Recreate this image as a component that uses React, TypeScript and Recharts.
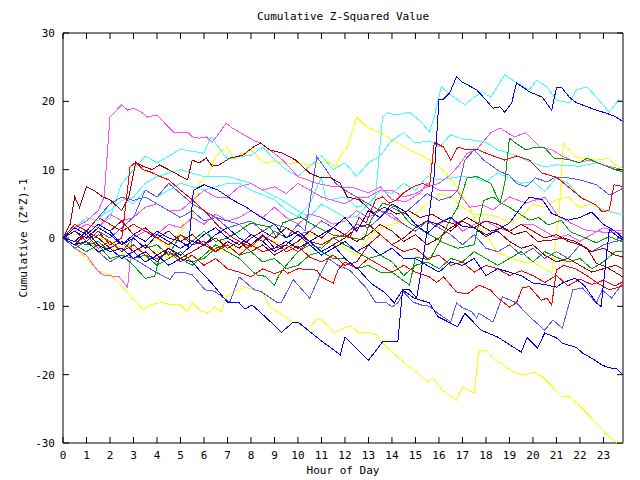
import React from "react";
import { LineChart, Line, XAxis, YAxis, ReferenceArea } from "recharts";

type P = [number, number];

// ---- axis values ----
const HOUR_TICKS = [0,1,2,3,4,5,6,7,8,9,10,11,12,13,14,15,16,17,18,19,20,21,22,23];
const VALUE_TICKS = [-30,-20,-10,0,10,20,30];
const X_MAX = 23.833;
const TITLE = "Cumulative Z-Squared Value";
const X_LABEL = "Hour of Day";
const Y_LABEL = "Cumulative (Z*Z)-1";

// ---- series (hour, cumulative value) ----
const BLUE_A: P[] = [[0,0],[0.5,-1],[1,-0.5],[1.5,-2],[2,-1.5],[2.5,-3],[3,-2],[3.5,-3.5],[4,-2.5],[4.5,-4],[5,-3],[5.5,-3.5],[5.8,-4.7],[6.3,-6.5],[7.0,-9.4],[7.5,-9.5],[7.75,-10.4],[8.05,-9.8],[8.6,-11.5],[9.3,-13.8],[9.8,-12.3],[10.0,-12.3],[10.9,-14.8],[11.8,-17.1],[12.0,-14.5],[13.0,-17.9],[13.6,-15.2],[14.25,-15.2],[14.45,-7.6],[14.75,-7.6],[15.05,-8.8],[15.25,-4.7],[15.5,1.2],[15.8,9.2],[16.0,20.2],[16.15,20.2],[16.45,21.2],[16.75,23.6],[17.0,22.8],[17.6,21.7],[18.0,20.2],[18.3,19.0],[18.6,19.2],[18.8,18.4],[19.1,19.8],[19.3,22.7],[19.85,21.4],[20.4,20.6],[20.8,18.7],[21.0,22.0],[21.2,22.1],[21.55,20.6],[21.85,19.8],[22.7,18.7],[23.1,18.3],[23.55,17.7],[23.83,17.0]];
const BLUE_B: P[] = [[0,0],[0.5,1],[1,0],[1.5,1.5],[2,0.5],[2.5,-1],[3,0],[3.5,-1.5],[4,0.5],[4.5,-0.5],[5,-1.5],[5.5,-0.5],[6,-1],[6.5,0.5],[7,1.5],[7.5,0],[8,-1],[8.5,0.5],[9,-1.5],[9.5,-0.5],[10,-1.5],[10.5,-0.5],[11,-2],[11.5,-1],[12,-3],[12.6,-4.7],[13.1,-6.6],[13.7,-8],[14.1,-9.5],[14.45,-7.6],[14.95,-8.8],[15.6,-9.5],[15.95,-11.5],[16.8,-13],[17.1,-11],[17.8,-13.5],[18.5,-14.5],[19.5,-16.7],[19.75,-14.6],[20.2,-16.1],[20.5,-13.9],[21.0,-14.6],[21.25,-15.4],[21.85,-16],[22.1,-16.8],[22.5,-17.6],[22.95,-18.6],[23.25,-19],[23.55,-19.1],[23.83,-20]];
const BLUE_C: P[] = [[0,0],[0.5,-0.5],[1,1],[1.5,-1],[2,-2],[2.5,-1.5],[3,-3],[3.5,-2],[4,-3.5],[4.5,-1.5],[5,-2.5],[5.5,-1],[6,0.5],[6.5,1.5],[7,0],[7.5,-1],[8,0.5],[8.5,-0.5],[9,-2],[9.5,-1],[10,0.5],[10.5,-1],[11,-2.5],[11.5,-1.5],[12,-0.5],[12.5,-2],[13,-1],[13.5,-2.5],[14,-1.5],[14.5,-3],[15,-3],[15.5,-4],[16,-5],[16.5,-3.5],[17,-4],[17.5,-3],[18,-5.5],[18.5,-4.5],[19,-5],[19.5,-5.5],[20,-6.6],[20.5,-6.8],[21,-7.2],[21.3,-6.5],[21.8,-5.9],[22.2,-7],[22.7,-9.5],[22.9,-10],[23.25,1.2],[23.5,0.5],[23.83,-0.3]];
const BLUE_D: P[] = [[0,0],[0.5,1.5],[1,0.5],[1.5,2],[2,1],[2.5,-1],[3,0.5],[3.5,-0.5],[4,1],[4.5,0],[5,-0.5],[5.35,-1.3],[5.55,7],[6,7.8],[6.6,7],[7.2,5.6],[7.8,4.5],[8.4,3.1],[9,2],[9.5,0],[10,1],[10.5,-0.5],[11,0.5],[11.5,1.5],[12,3],[12.5,1],[13,4],[13.5,3],[14,5],[14.5,4],[15,2],[15.5,0.7],[16,2.2],[16.5,3],[17,1.7],[17.5,1.5],[18,0.2],[18.5,1.2],[19,2.2],[19.5,4.5],[19.85,6],[20.4,5.6],[20.8,3.6],[21.5,2.6],[22,3],[22.5,3.8],[23,2],[23.5,1],[23.83,0]];
const SLATE_1: P[] = [[0,0],[0.5,-1.5],[1,-0.5],[1.5,-2],[2,-3.5],[2.5,-2.5],[3,-3],[3.8,-4.7],[4.55,-6.1],[4.75,-5.1],[5.2,-5.1],[5.5,-5.4],[6.05,-7.6],[6.45,-7.8],[7.1,-9.4],[7.5,-5.7],[8.15,-7.6],[8.4,-7.8],[9.1,-9.4],[9.3,-9.4],[9.8,-6.1],[10.5,-8.8],[10.9,-5.7],[11.3,-3],[11.7,-4],[12.2,-4.7],[12.9,-7.3],[13.3,-9.4],[13.6,-9.5],[13.75,-9.4],[14.0,-10.1],[14.25,-9.5],[14.5,-7.9],[14.9,-9.4],[15.25,-9.8],[15.6,-10],[15.95,-11],[16.5,-12.3],[16.75,-9.5],[17.0,-10.2],[17.4,-10.8],[17.6,-11.7],[17.7,-11],[18.3,-12.3],[18.7,-8.6],[19.3,-9.5],[19.85,-11.5],[20.5,-13.5],[20.85,-12],[21.25,-13.2],[21.7,-7.6],[22.1,-7.3],[22.7,-9.5],[22.95,-7.6],[23.35,-8.8],[23.83,-6.6]];
const SLATE_2: P[] = [[0,0],[0.5,2],[1,1],[1.5,3],[2,5],[2.5,6],[3,5.5],[3.5,6],[4,5],[4.5,4],[5,3],[5.5,4],[6,2.5],[6.5,3],[7,1.5],[7.5,2],[8,0.5],[8.5,-0.5],[9,1],[9.5,0],[10,2],[10.3,1],[10.5,5],[10.8,11.9],[11.2,10],[11.6,8],[12,7],[12.5,6],[13,5],[13.5,4],[14,3.5],[14.5,2],[15,1],[15.5,2.5],[16,1.5],[16.5,0.5],[17,-1],[17.5,0.5],[18,-1.5],[18.5,-2],[19,-1],[19.5,-2.5],[20,-1.5],[20.5,-3],[21,-2],[21.5,-3],[22,-1],[22.5,-2],[23,-1],[23.5,-0.5],[23.83,-0.3]];
const SLATE_3: P[] = [[0,0],[0.5,-1],[1,-0.5],[1.5,1],[2,0],[2.5,1.5],[3,3],[3.5,7],[4,6],[4.5,8],[5,6.5],[5.5,5],[6,4],[6.5,3],[7,2.5],[7.5,2],[8,2.5],[8.5,1],[9,2],[9.5,1.5],[10,0.5],[10.5,1],[11,2.5],[11.5,1.5],[12,0.5],[12.5,2],[13,1.5],[13.5,3],[14,4.5],[14.5,3.5],[15,5],[15.5,6.5],[16,5.5],[16.5,6],[16.8,7],[17.1,11.4],[17.5,12.9],[17.9,11.4],[18.6,9.7],[19.0,9.2],[19.3,8],[19.7,7.5],[20.1,8.8],[20.6,8.2],[20.9,8.8],[21.5,8.8],[22.0,8.5],[22.7,7.8],[23.25,6.3],[23.6,6.8],[23.83,7.3]];
const RED_1: P[] = [[0,0],[0.5,2],[1,1],[1.5,3],[2,2],[2.5,1],[3,2],[3.5,1],[4,0],[4.5,-1],[5,0.5],[5.5,-1],[6,-0.5],[6.5,-2],[7,-1],[7.5,-2.5],[8,-1],[8.5,-2],[9,-1.5],[9.5,-1],[10,-2],[10.5,-0.5],[11,-1],[11.5,0],[12,0.5],[12.2,0],[12.6,3],[12.9,2.2],[13.3,5.6],[13.6,6],[13.9,5.1],[14.2,5.6],[14.5,6.6],[14.9,7.5],[15.3,8],[15.6,7.5],[15.8,14],[16.2,13.3],[16.5,11.4],[16.8,13.3],[17.2,12.9],[17.7,12.9],[18.0,12.4],[18.4,11.9],[18.8,11.4],[19.3,12],[19.85,11.4],[20.4,9.5],[21.0,8.9],[21.5,7.5],[22.1,5.8],[22.7,4.8],[22.95,3.8],[23.25,4.1],[23.45,7.8],[23.83,7.5]];
const RED_2: P[] = [[0,0],[0.5,1],[1,-0.5],[1.5,1],[2,-1],[2.5,0],[2.7,5.6],[2.85,10.4],[3.1,11.1],[3.4,10],[3.7,9.7],[4.0,9.2],[4.5,8.5],[5.0,7],[5.5,5.6],[6.1,3.7],[6.65,1.6],[7.2,0.1],[7.6,-0.7],[8.0,-1.3],[8.5,0.3],[9.0,-0.7],[9.5,-2],[10.0,-1.2],[10.5,-2.8],[11.0,-3.5],[11.5,-2.5],[12.0,-4],[12.5,-3.5],[13,-1],[13.5,0.5],[14,-1],[14.5,-2],[15,-1.5],[15.5,-3],[16,-2.5],[16.5,-4],[17,-3.5],[17.5,-5],[18,-4],[18.5,-4.5],[19,-5.5],[19.5,-4.8],[20,-5.5],[20.5,-6.5],[21,-5.5],[21.5,-7],[22,-6],[22.5,-6.8],[23,-6.2],[23.5,-7],[23.83,-6.4]];
const RED_3: P[] = [[0,0],[0.5,-1],[1,0.5],[1.5,-1.5],[2,-0.5],[2.5,-2],[3,-1],[3.5,-2.5],[4,-3],[4.5,-2],[5,-3.5],[5.5,-2.5],[6,-4],[6.5,-3],[7,-4.5],[7.5,-5],[8,-5.7],[8.5,-4.5],[9,-5.2],[9.4,-4.7],[9.55,-5.2],[10,-4.5],[10.8,-4.7],[11.0,-5.7],[11.5,-6.6],[11.7,-4.7],[12,-3.5],[12.5,-4.5],[13,-3],[13.5,-4],[14,-5],[14.5,-4],[15,-5],[15.6,-5.7],[15.9,-6.5],[16.2,-5.7],[16.75,-7.9],[17.2,-8.2],[17.7,-6.9],[18.2,-7.6],[18.45,-8.6],[19.0,-10.1],[19.3,-9.5],[19.55,-7.3],[19.85,-7.1],[20.35,-9.1],[20.6,-8.8],[20.8,-9.8],[21.0,-4.7],[21.3,-4],[21.8,-4.5],[22.3,-5.5],[22.7,-6.5],[23.25,-7.6],[23.83,-7]];
const DKRED_1: P[] = [[0,0],[0.3,2],[0.5,6],[0.7,4.5],[1.0,7.5],[1.3,7],[1.7,6],[2.0,5.6],[2.5,4],[2.8,6],[3.1,11.1],[3.4,10.5],[3.8,10],[4.1,10.7],[4.5,10],[5.3,8.5],[5.5,11.4],[5.8,11],[6.1,11.7],[6.35,10.5],[6.65,10.7],[7.1,11.7],[7.65,12.1],[8.1,13.3],[8.4,13.9],[8.8,12.9],[9.35,12.4],[9.9,11.4],[10.5,9.5],[10.9,8.9],[11.35,8.9],[11.8,8],[12.1,6],[12.6,5.6],[13.2,3.7],[13.7,4.5],[14.2,3.5],[14.7,4],[15.2,3],[15.7,3.5],[16.2,2.5],[16.7,2],[17.2,3],[17.7,2],[18.2,1],[18.7,1.5],[19.2,0.5],[19.7,1],[20.2,-0.5],[20.8,-0.3],[21.3,0],[21.8,-0.5],[22.3,-1.5],[22.7,-3.7],[23.1,-4.2],[23.83,-5.7]];
const DKRED_2: P[] = [[0,0],[0.5,-1],[1,1],[1.5,0],[2,-1.5],[2.5,-0.5],[3,-2],[3.5,-1],[4,-2.5],[4.5,-1.5],[5,-3],[5.5,-2],[6,-1],[6.5,-2],[7,-0.5],[7.5,-1.5],[8,0],[8.5,1],[9,0],[9.5,1.5],[10,0.5],[10.5,-0.5],[11,-2],[11.5,-1],[12,0],[12.5,1.5],[13,2],[13.5,0.5],[14,-1],[14.5,0],[15,1.5],[15.5,2.5],[16,2],[16.5,1],[17,2.5],[17.5,1.5],[18,2.5],[18.5,2],[19,1],[19.5,2],[20,1],[20.5,0],[21,0.5],[21.5,-0.5],[22,-1],[22.5,-2],[23,-1.5],[23.5,-2.5],[23.83,-2.8]];
const DKRED_3: P[] = [[0,0],[0.5,1.5],[1,0.5],[1.5,2],[2,1],[2.5,2.5],[3,0.5],[3.5,1.5],[4,0],[4.5,1],[5,-0.5],[5.5,0.5],[6,-1],[6.5,0],[7,-1.5],[7.5,-0.5],[8,-2],[8.5,-1],[9,-2.5],[9.5,-1.5],[10,-0.5],[10.5,1],[11,0],[11.5,1.5],[12,0.5],[12.5,-0.5],[13,0.5],[13.5,2],[14,1],[14.5,-0.5],[15,0.5],[15.5,-1],[16,0],[16.5,1.5],[17,2.5],[17.5,1.5],[18,0.5],[18.5,1],[19,-0.5],[19.5,-1.5],[20,-1],[20.5,-2.5],[21,-3.5],[21.5,-3],[22,-4],[22.5,-5],[23,-4.5],[23.5,-4],[23.83,-4.5]];
const GREEN_1: P[] = [[0,0],[0.5,-0.5],[1,-1],[1.5,-0.5],[2,-2],[2.5,-1.5],[3,-3],[3.5,-2.5],[4,-4],[4.5,-3],[5,-2],[5.5,-3.5],[6,-3],[6.5,-1.5],[7,-1],[7.5,-2.5],[8,-2],[8.5,-3.5],[9,-3],[9.5,-4.5],[10,-4],[10.5,-2.5],[11,-2],[11.5,-3],[12,-3],[12.5,-4.5],[13,-4],[13.5,-5],[14,-5],[14.75,-6.9],[15,-2.8],[15.6,-3.2],[16,-0.7],[16.4,2.2],[16.8,4.5],[17.2,8.8],[17.6,9],[18.2,8],[18.6,5.1],[18.8,8],[19.0,14.6],[19.3,13.8],[19.7,12.9],[20.1,13.3],[20.5,13.2],[20.9,11.7],[21.5,11.5],[22,11],[22.3,11.7],[22.9,10.8],[23.5,10],[23.83,9.7]];
const GREEN_2: P[] = [[0,0],[0.5,-0.5],[1,-1],[1.5,0.5],[2,-0.5],[2.5,-2],[3,0],[3.5,-1.5],[4,-1],[4.5,-2.5],[5,0.5],[5.5,-0.5],[6,1],[6.5,-0.5],[7,0],[7.5,1],[8,2.2],[8.8,1.6],[9.1,0.1],[9.35,2.2],[10.1,3.1],[10.8,1.6],[11.5,0.4],[12.2,0.1],[12.8,-0.3],[13.1,2.6],[13.6,5.1],[14.2,4.5],[14.75,2.2],[15.5,0.7],[16.2,-0.7],[16.8,-1.5],[17.5,-1],[17.9,5.5],[18.3,6],[18.7,5],[19.0,4.5],[19.4,3.6],[19.85,2.6],[20.25,3],[20.65,1.9],[21.2,2.6],[21.6,0.9],[22.1,0.2],[22.7,-0.7],[23.25,0.2],[23.83,-0.6]];
const GREEN_3: P[] = [[0,0],[0.5,-1],[1,-2],[1.5,-1],[2,-3],[2.5,-2.5],[3,-4],[3.5,-5.9],[3.9,-5.6],[4.1,-3],[4.5,-2],[5,-3],[5.5,-4],[6,-2.5],[6.5,-1],[7,-2],[7.5,-3],[8,-4.7],[8.25,-5.4],[8.6,-5.6],[9.0,-6.9],[9.2,-5.4],[9.5,-4],[10,-2],[10.5,-1],[11,-1.5],[11.5,0],[12,-1],[12.5,-2],[13,-3],[13.5,-2.5],[14,-3.5],[14.5,-5.5],[15,-4],[15.5,-3.5],[16,-4.5],[16.5,-3],[17,-3.5],[17.5,-2],[18,-3],[18.5,-4],[19,-3],[19.5,-2],[20,-3.5],[20.5,-2],[21,-2.8],[21.5,-3.5],[22,-3],[22.5,-4.5],[23,-3.5],[23.5,-2],[23.83,-2]];
const YELLOW_1: P[] = [[0,0],[0.5,-1.5],[1,-3],[1.45,-4.7],[2.0,-5.4],[2.4,-6.6],[3.4,-10.5],[3.7,-9.8],[4.25,-9.4],[4.55,-9.8],[5.0,-9.8],[5.3,-10.8],[5.5,-9.5],[5.8,-10.5],[6.15,-11],[6.45,-10.1],[6.75,-10.8],[6.95,-8.6],[7.4,-7.6],[7.75,-7.2],[8.15,-7.6],[8.5,-7.9],[8.8,-10.1],[9.35,-11.3],[9.75,-12.3],[10.1,-12.7],[10.4,-13.5],[10.8,-11.9],[11.0,-12],[11.55,-13.8],[11.8,-13.5],[12.1,-12.9],[12.3,-13],[12.55,-13.8],[12.95,-13.8],[13.35,-14.2],[13.6,-15.4],[14.0,-16.7],[14.75,-18.9],[15.05,-19.6],[15.5,-21.1],[15.75,-20.5],[16.15,-22.3],[16.75,-23.7],[17.0,-21.8],[17.5,-22.7],[17.7,-16.4],[17.95,-16.4],[18.45,-18.1],[18.65,-18.2],[19.0,-19.3],[19.3,-19.8],[19.7,-20],[20.05,-19.6],[20.4,-20.3],[21.25,-23.3],[21.5,-23.1],[21.85,-24.1],[22.7,-27.1],[23.25,-29.1],[23.55,-29.9],[23.83,-30]];
const YELLOW_2: P[] = [[0,0],[0.5,-1],[1,0.5],[1.5,-2],[2,-1],[2.5,-3],[3,-2],[3.5,-1],[4,0],[4.5,-1.5],[5,1],[5.5,3],[5.8,8],[6.2,9.5],[6.5,12],[7,13.3],[7.3,11.5],[7.5,12],[8,13],[8.5,11],[9,11.2],[9.5,10.9],[10,11],[10.5,10.7],[11,11],[11.2,11.5],[11.6,10.4],[11.8,12],[12.1,13.3],[12.5,17.7],[12.9,16.3],[13.5,15.4],[14,14.3],[14.75,12.9],[15.3,12],[15.8,11],[16.3,9.5],[16.75,7.5],[17.3,4.5],[17.7,1.5],[18.2,-0.5],[18.5,-2.2],[19.0,-2.8],[19.5,-3.5],[20.0,-3.6],[20.5,-4.5],[20.8,-5.1],[21.1,3],[21.3,13.9],[21.8,11.9],[22.3,11.5],[22.7,11.4],[23.2,11.7],[23.5,10.7],[23.83,10.2]];
const YELLOW_3: P[] = [[0,0],[0.5,0.5],[1,1],[1.5,0],[2,-0.5],[2.5,-1.5],[3,-1],[3.5,-2.5],[4,-2],[4.5,-3],[5,-2.5],[5.5,-3.5],[6,-3],[6.5,-1.5],[7,-2],[7.5,-1],[8,-1.5],[8.5,0],[9,-0.5],[9.5,-1.5],[10,-1],[10.5,0.5],[11,0],[11.5,-1],[12,-1.5],[12.5,-2.5],[13,0],[13.5,1.5],[14,2],[14.5,2.5],[15,3.5],[15.5,5],[16,6.5],[16.5,6],[17,4.5],[17.5,3.5],[18,3.5],[18.5,3.1],[19,2.2],[19.5,3],[20,5],[20.5,4.5],[21,5.6],[21.5,6],[22,4.5],[22.5,5],[23,4],[23.83,3.4]];
const MAG_1: P[] = [[0,0],[0.5,1.5],[1,2.5],[1.5,4],[1.75,6],[2.0,17.7],[2.5,19.5],[2.75,18.7],[3.0,19],[3.35,18.4],[3.6,17.7],[4.0,18],[4.7,15.5],[4.9,15.4],[5.3,15.5],[5.5,14.8],[5.8,14.6],[6.1,14.8],[6.35,14],[6.65,15.4],[6.95,16.8],[7.2,16.1],[7.5,15.5],[8.1,14.3],[8.4,13.9],[8.8,12.9],[9.35,11.4],[10,9],[10.8,8],[11.5,7.5],[12.3,7.4],[13,6.6],[13.5,7.5],[14,5.6],[14.6,5.3],[15.2,6.6],[15.5,8],[16,7],[16.75,7],[17.3,4.5],[17.9,4.8],[18.3,4.1],[19,6],[19.7,5.1],[20.5,6],[21.1,3.1],[21.6,2.2],[22.2,1.2],[22.8,0.9],[23.83,0.7]];
const MAG_2: P[] = [[0,0],[0.5,1],[1,2],[1.5,1.5],[2,3.5],[2.5,2.5],[3,3],[3.5,4.5],[4,5],[4.5,4],[5,4],[5.5,5.5],[6,7],[6.5,6],[7,6],[7.5,7.5],[8,8],[8.5,7],[9,7.5],[9.5,6.5],[10,8],[10.5,7],[11,6],[11.5,5.5],[12,5],[12.5,6],[13,6],[13.5,7],[14,7],[14.5,6],[15,6.5],[15.5,7.5],[16,8],[16.4,9],[16.8,10.4],[17.2,12.4],[17.6,12.9],[18.2,15.4],[18.6,16.1],[19.2,14.8],[19.7,15.4],[20.3,13.3],[20.8,12.9],[21.3,11.9],[21.9,11],[22.4,11.4],[23,10.7],[23.83,10]];
const MAG_3: P[] = [[0,0],[0.5,-1.5],[1,-2.5],[1.45,-4.7],[1.7,-5.4],[2.2,-5.6],[2.4,-5.7],[2.75,-7.2],[2.95,0],[3.5,1],[4,0.5],[4.5,2],[5,1.5],[5.5,3],[6,2],[6.5,3.5],[7,2.5],[7.5,3],[8,4],[8.5,3],[9,4.5],[9.5,3],[10,2],[10.5,3.5],[11,3],[11.5,2],[12,2.5],[12.5,4],[13,3],[13.5,4],[14,3],[14.5,2],[15,1],[15.5,2.5],[16,2],[16.5,3],[17,1],[17.5,2],[18,2.5],[18.5,1.5],[19,1],[19.5,2],[20,2],[20.5,1],[21,0],[21.5,0.5],[22,-0.5],[22.5,0.5],[23,1.5],[23.5,1],[23.83,1.2]];
const CYAN_1: P[] = [[0,0],[0.5,1.5],[1,3],[1.5,2.5],[2,5],[2.5,6],[3,5],[3.5,7],[4,6],[5,8],[6,7],[7,8],[7.5,8],[8,7],[9,5.6],[9.5,4.1],[10,3.1],[10.5,5],[11,8.9],[11.2,5.5],[12,6],[12.5,4.5],[13,5],[13.3,6],[13.6,17.7],[13.8,18.3],[14.2,18],[14.75,18.4],[15.3,16.8],[15.6,15.5],[15.8,17.7],[16.1,22.1],[16.4,21.2],[16.8,20.2],[17.1,19.5],[17.5,20.6],[17.85,21.4],[18.2,20.6],[18.8,23.9],[19.3,22.7],[19.85,21.7],[20.15,23.1],[20.6,22.1],[21.0,20.2],[21.55,19.8],[21.85,21.7],[22.3,22.1],[22.7,20.6],[23.25,18.4],[23.65,20.2],[23.83,19.9]];
const CYAN_2: P[] = [[0,0],[0.5,1],[1,2],[1.5,1.5],[2,3],[2.5,8],[3,10],[3.5,12],[4,11],[5,13],[6,12.4],[6.3,14.8],[7,11.5],[7.5,11.9],[8,12.1],[8.5,13.3],[9,11.5],[9.5,10],[10,9],[10.5,10.5],[11,12],[11.5,10],[12,11],[12.5,9],[13,11],[13.5,12],[14,14.3],[14.5,15.4],[15,13.9],[15.6,14.2],[16,13.3],[16.5,15.1],[17,14.5],[17.5,14.3],[18,14],[18.5,12.9],[19,12.4],[19.5,11.7],[20,11],[20.5,10.4],[21,10.7],[22,10.5],[22.7,11],[23.25,10.4],[23.83,9.7]];
const CYAN_3: P[] = [[0,0],[0.5,2],[1,1],[1.5,3],[2,4],[2.5,5.5],[3,6],[3.5,8],[4,9],[5,10],[6,9],[7,9],[8,8],[8.5,7],[9.3,5.6],[10,4],[10.5,3],[11,5],[11.5,4],[12,3],[12.5,3.1],[13,5],[13.5,7],[14,6.5],[14.5,8],[15,7],[15.5,9],[16,8.5],[16.5,8.8],[17,9],[17.5,8.8],[18,8.2],[18.5,9.5],[19,8.8],[19.5,8],[20,8.3],[20.5,6.8],[21,8.8],[21.5,8],[22,6],[22.5,5.1],[23,4.1],[23.83,3.4]];

// ---- palette ----
const BLUE = "#0000ff";
const SLATE = "#5a5aff";
const RED = "#ff0000";
const DKRED = "#a00000";
const GREEN = "#00a000";
const YELLOW = "#ffff00";
const MAGENTA = "#ff50ff";
const CYAN = "#40ffff";

const SERIES: { id: string; color: string; points: P[] }[] = [
  { id: "y1", color: YELLOW, points: YELLOW_1 },
  { id: "y2", color: YELLOW, points: YELLOW_2 },
  { id: "y3", color: YELLOW, points: YELLOW_3 },
  { id: "c1", color: CYAN, points: CYAN_1 },
  { id: "c2", color: CYAN, points: CYAN_2 },
  { id: "c3", color: CYAN, points: CYAN_3 },
  { id: "m1", color: MAGENTA, points: MAG_1 },
  { id: "m2", color: MAGENTA, points: MAG_2 },
  { id: "m3", color: MAGENTA, points: MAG_3 },
  { id: "s1", color: SLATE, points: SLATE_1 },
  { id: "s2", color: SLATE, points: SLATE_2 },
  { id: "s3", color: SLATE, points: SLATE_3 },
  { id: "g1", color: GREEN, points: GREEN_1 },
  { id: "g2", color: GREEN, points: GREEN_2 },
  { id: "g3", color: GREEN, points: GREEN_3 },
  { id: "d1", color: DKRED, points: DKRED_1 },
  { id: "d2", color: DKRED, points: DKRED_2 },
  { id: "d3", color: DKRED, points: DKRED_3 },
  { id: "r1", color: RED, points: RED_1 },
  { id: "r2", color: RED, points: RED_2 },
  { id: "r3", color: RED, points: RED_3 },
  { id: "b1", color: BLUE, points: BLUE_A },
  { id: "b2", color: BLUE, points: BLUE_B },
  { id: "b3", color: BLUE, points: BLUE_C },
  { id: "b4", color: BLUE, points: BLUE_D },
];

// ---- layout ----
const W = 640;
const H = 480;
const PLOT_LEFT = 63;
const PLOT_RIGHT = 623;
const PLOT_TOP = 33;
const PLOT_BOTTOM = 443;
const TICK_LEN = 6;
const FONT = "'DejaVu Sans Mono', 'Liberation Mono', monospace";
const FS = 11;

const XTick = (props: any) => {
  const cx = props.payload?.coordinate ?? props.x;
  return (
    <g>
      <line x1={cx} y1={PLOT_BOTTOM} x2={cx} y2={PLOT_BOTTOM - TICK_LEN} stroke="#000" />
      <line x1={cx} y1={PLOT_TOP} x2={cx} y2={PLOT_TOP + TICK_LEN} stroke="#000" />
      <text x={cx} y={PLOT_BOTTOM + 16} textAnchor="middle" fontFamily={FONT} fontSize={FS} fill="#000">
        {props.payload?.value}
      </text>
    </g>
  );
};

const YTick = (props: any) => {
  const cy = props.payload?.coordinate ?? props.y;
  return (
    <g>
      <line x1={PLOT_LEFT} y1={cy} x2={PLOT_LEFT + TICK_LEN} y2={cy} stroke="#000" />
      <line x1={PLOT_RIGHT} y1={cy} x2={PLOT_RIGHT - TICK_LEN} y2={cy} stroke="#000" />
      <text x={PLOT_LEFT - 8} y={cy + 4} textAnchor="end" fontFamily={FONT} fontSize={FS} fill="#000">
        {props.payload?.value}
      </text>
    </g>
  );
};

export default function App() {
  return (
    <div style={{ position: "absolute", left: 0, top: 0, width: W, height: H, background: "#fff" }}>
      <LineChart
        width={W}
        height={H}
        margin={{ top: PLOT_TOP, right: W - PLOT_RIGHT, bottom: 0, left: 0 }}
      >
        <XAxis
          type="number"
          dataKey="h"
          domain={[0, X_MAX]}
          ticks={HOUR_TICKS}
          interval={0}
          allowDataOverflow
          height={H - PLOT_BOTTOM}
          axisLine={false}
          tickLine={false}
          tick={<XTick />}
        />
        <YAxis
          type="number"
          domain={[-30, 30]}
          ticks={VALUE_TICKS}
          interval={0}
          allowDataOverflow
          width={PLOT_LEFT}
          axisLine={false}
          tickLine={false}
          tick={<YTick />}
        />
        {SERIES.map((s) => (
          <Line
            key={s.id}
            data={s.points.map(([h, v]) => ({ h, v }))}
            dataKey="v"
            type="linear"
            stroke={s.color}
            strokeWidth={1}
            dot={false}
            activeDot={false}
            isAnimationActive={false}
            shapeRendering="crispEdges"
          />
        ))}
        <ReferenceArea
          x1={0}
          x2={X_MAX}
          y1={-30}
          y2={30}
          fill="none"
          fillOpacity={0}
          stroke="#000"
          strokeWidth={1}
          ifOverflow="visible"
        />
      </LineChart>
      <svg
        width={W}
        height={H}
        style={{ position: "absolute", left: 0, top: 0, pointerEvents: "none" }}
      >
        <text x={(PLOT_LEFT + PLOT_RIGHT) / 2} y={20} textAnchor="middle" fontFamily={FONT} fontSize={FS} fill="#000">
          {TITLE}
        </text>
        <text x={(PLOT_LEFT + PLOT_RIGHT) / 2} y={474} textAnchor="middle" fontFamily={FONT} fontSize={FS} fill="#000">
          {X_LABEL}
        </text>
        <text
          transform={`translate(27, ${(PLOT_TOP + PLOT_BOTTOM) / 2}) rotate(-90)`}
          textAnchor="middle"
          fontFamily={FONT}
          fontSize={FS}
          fill="#000"
        >
          {Y_LABEL}
        </text>
      </svg>
    </div>
  );
}
